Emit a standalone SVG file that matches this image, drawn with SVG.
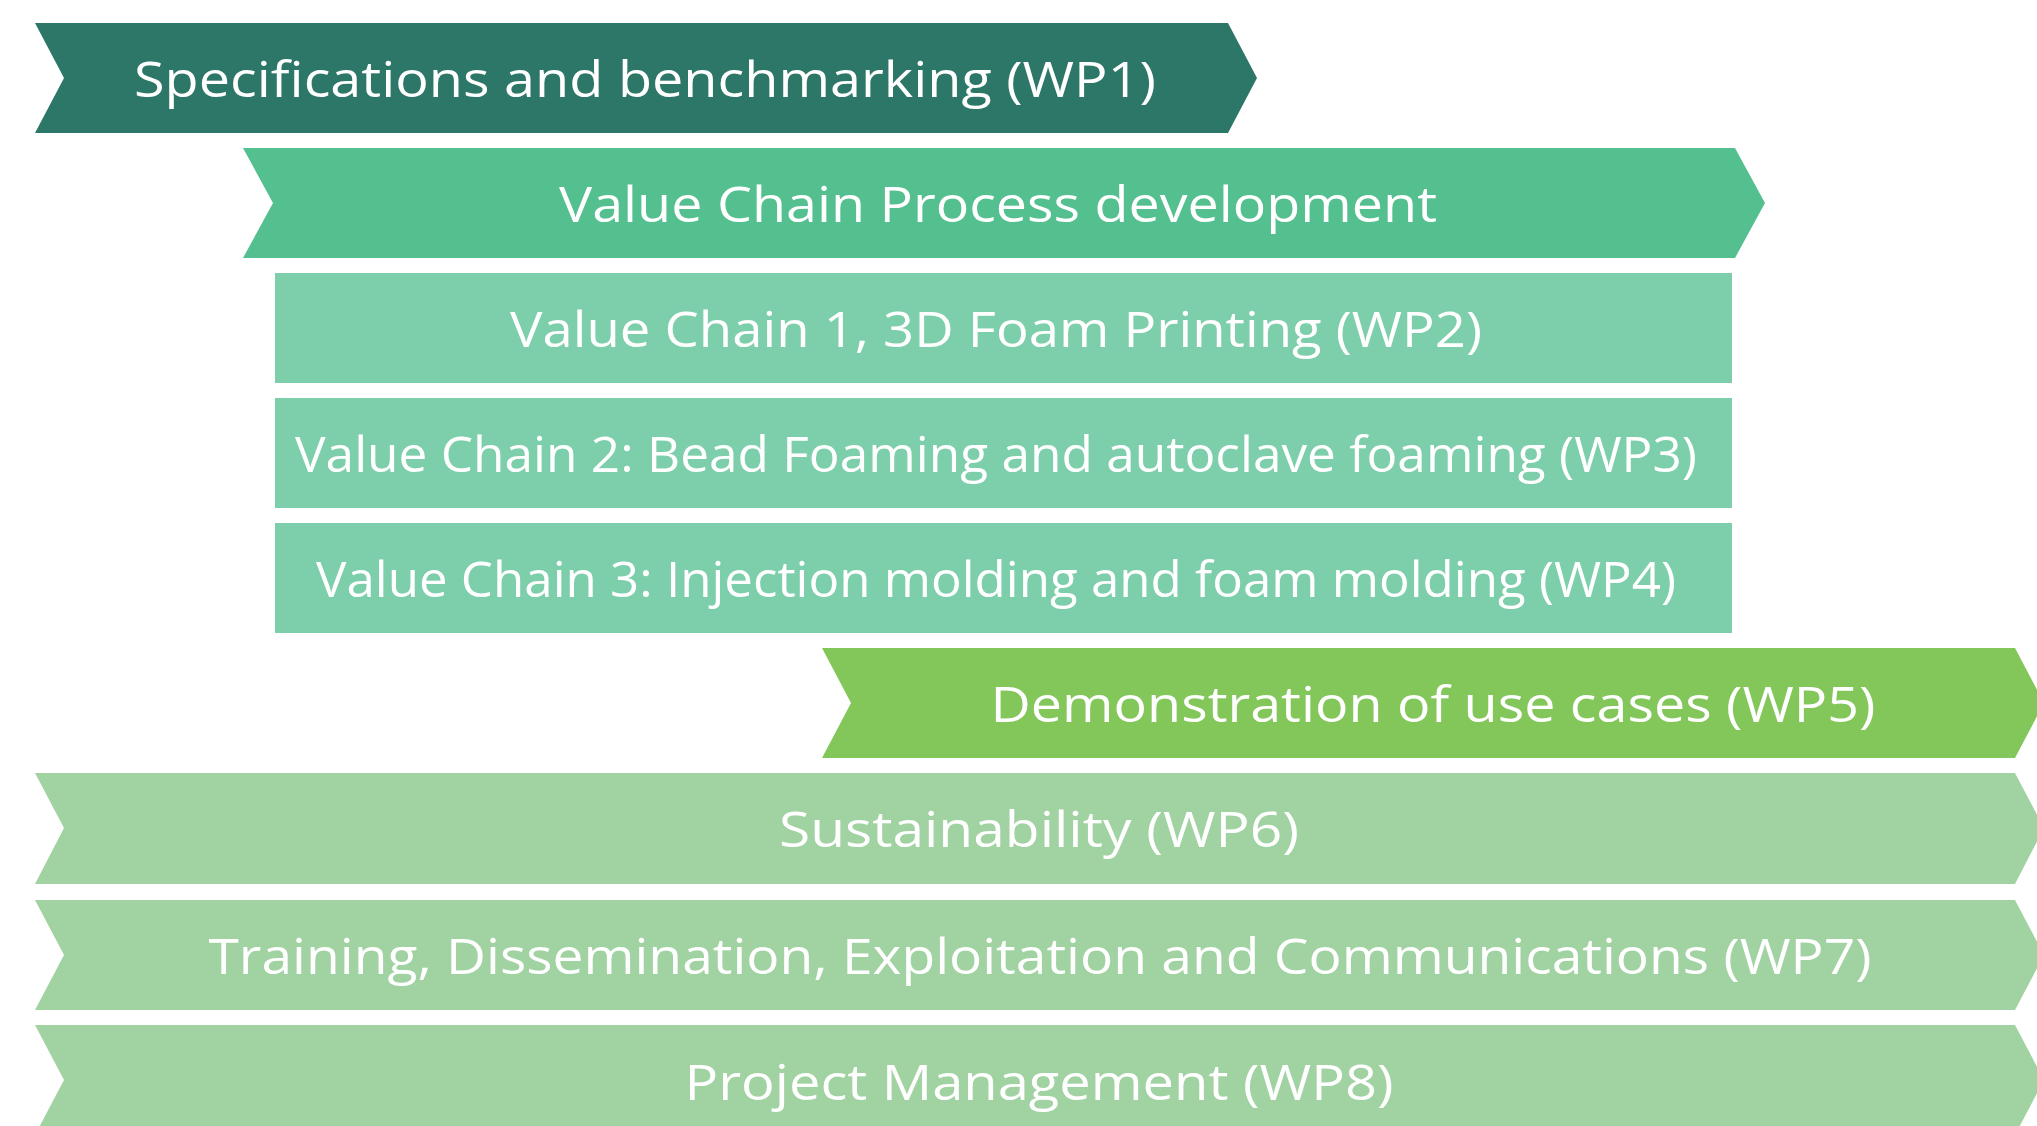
<svg xmlns="http://www.w3.org/2000/svg" width="2037" height="1126" viewBox="0 0 2037 1126">
  <defs>
    <style>
      .lbl { font-family: "Open Sans", "Liberation Sans", sans-serif; font-size: 50px; fill: #ffffff; text-anchor: middle; }
      .wp1 { fill: #2D7768; }
      .proc { fill: #54BF8F; }
      .chain { fill: #7DCEAB; }
      .demo { fill: #83C65A; }
      .cross { fill: #A1D2A2; }
    </style>
  </defs>
  <rect x="0" y="0" width="2037" height="1126" fill="#ffffff"/>

  <g id="wp1">
    <path class="wp1" d="M35,23 L1228,23 L1257,78 L1228,133 L35,133 L64,78 Z"/>
    <text class="lbl" x="645" y="97" textLength="1022" lengthAdjust="spacingAndGlyphs">Specifications and benchmarking (WP1)</text>
  </g>

  <g id="process">
    <path class="proc" d="M243,148 L1735,148 L1765,203 L1735,258 L243,258 L273,203 Z"/>
    <text class="lbl" x="998" y="222" textLength="878" lengthAdjust="spacingAndGlyphs">Value Chain Process development</text>
  </g>

  <g id="wp2">
    <rect class="chain" x="275" y="273" width="1457" height="110"/>
    <text class="lbl" x="996" y="347" textLength="972" lengthAdjust="spacingAndGlyphs">Value Chain 1, 3D Foam Printing (WP2)</text>
  </g>

  <g id="wp3">
    <rect class="chain" x="275" y="398" width="1457" height="110"/>
    <text class="lbl" x="996" y="472" textLength="1402" lengthAdjust="spacingAndGlyphs">Value Chain 2: Bead Foaming and autoclave foaming (WP3)</text>
  </g>

  <g id="wp4">
    <rect class="chain" x="275" y="523" width="1457" height="110"/>
    <text class="lbl" x="996" y="597" textLength="1360" lengthAdjust="spacingAndGlyphs">Value Chain 3: Injection molding and foam molding (WP4)</text>
  </g>

  <g id="wp5">
    <path class="demo" d="M822,648 L2015,648 L2044,703 L2015,758 L822,758 L851,703 Z"/>
    <text class="lbl" x="1433" y="722" textLength="885" lengthAdjust="spacingAndGlyphs">Demonstration of use cases (WP5)</text>
  </g>

  <g id="wp6">
    <path class="cross" d="M35,773 L2015,773 L2044,828 L2015,884 L35,884 L64,828 Z"/>
    <text class="lbl" x="1039" y="847" textLength="520" lengthAdjust="spacingAndGlyphs">Sustainability (WP6)</text>
  </g>

  <g id="wp7">
    <path class="cross" d="M35,900 L2015,900 L2044,955 L2015,1010 L35,1010 L64,955 Z"/>
    <text class="lbl" x="1040" y="974" textLength="1663" lengthAdjust="spacingAndGlyphs">Training, Dissemination, Exploitation and Communications (WP7)</text>
  </g>

  <g id="wp8">
    <path class="cross" d="M35,1025 L2015,1025 L2044,1080 L2015,1135 L35,1135 L64,1080 Z"/>
    <text class="lbl" x="1039" y="1100" textLength="709" lengthAdjust="spacingAndGlyphs">Project Management (WP8)</text>
  </g>

  <g id="connectors"></g>
</svg>
